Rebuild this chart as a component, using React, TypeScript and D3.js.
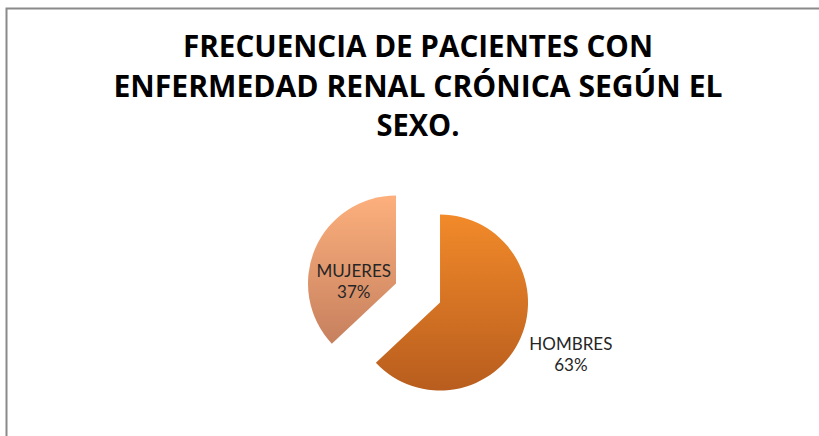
import * as d3 from 'd3'

const CATEGORIES = ['HOMBRES', 'MUJERES']
const PERCENTS = [63, 37]
const TITLE_LINES = ['FRECUENCIA DE PACIENTES CON', 'ENFERMEDAD RENAL CRÓNICA SEGÚN EL', 'SEXO.']
const TITLE_WIDTHS = [470, 609, 83]

// gradient stops per slice (top -> bottom)
const GRADIENTS = [
  ['#F28A2A', '#B85D1E'],
  ['#FDB07D', '#C6805E']
]

const W = 819
const H = 436

export default function App() {
  const cx = 418
  const cy = 293
  const radius = 88
  const explode = 24

  const pie = d3.pie<number>().sort(null).value(d => d)
  const arcs = pie(PERCENTS)
  const arcGen = d3.arc<d3.PieArcDatum<number>>().innerRadius(0).outerRadius(radius)

  // label placement: radius factor and angle shift (Excel "best fit")
  const labelR = [1.6, 0.48]
  const labelShift = [-0.03, -0.37]

  return (
    <svg width={W} height={H} style={{ position: 'absolute', left: 0, top: 0, background: '#fff' }}>
      <defs>
        {GRADIENTS.map((g, i) => (
          <linearGradient key={i} id={`grad-${i}`} x1="0" y1="0" x2="0" y2="1">
            <stop offset="0%" stopColor={g[0]} />
            <stop offset="100%" stopColor={g[1]} />
          </linearGradient>
        ))}
      </defs>

      <rect x={6.5} y={8.5} width={840} height={460} fill="none" stroke="#8a8a8a" strokeWidth={2} />

      {TITLE_LINES.map((line, i) => (
        <text
          key={i}
          x={418}
          y={57 + i * 39.5}
          textAnchor="middle"
          fontFamily="'Open Sans', Lato, sans-serif"
          fontWeight="bold"
          fontSize={30}
          fill="#000"
          textLength={TITLE_WIDTHS[i]}
          lengthAdjust="spacingAndGlyphs"
        >
          {line}
        </text>
      ))}

      {arcs.map((a, i) => {
        const mid = (a.startAngle + a.endAngle) / 2
        const ox = cx + explode * Math.sin(mid)
        const oy = cy - explode * Math.cos(mid)
        const la = mid + labelShift[i]
        const lx = ox + radius * labelR[i] * Math.sin(la)
        const ly = oy - radius * labelR[i] * Math.cos(la)
        return (
          <g key={CATEGORIES[i]}>
            <path d={arcGen(a) || ''} transform={`translate(${ox},${oy})`} fill={`url(#grad-${i})`} />
            <text
              x={lx}
              y={ly}
              textAnchor="middle"
              fontFamily="Lato, 'Open Sans', sans-serif"
              fontSize={17}
              fill="#262626"
            >
              <tspan x={lx} dy={-5}>{CATEGORIES[i]}</tspan>
              <tspan x={lx} dy={21}>{`${PERCENTS[i]}%`}</tspan>
            </text>
          </g>
        )
      })}
    </svg>
  )
}
